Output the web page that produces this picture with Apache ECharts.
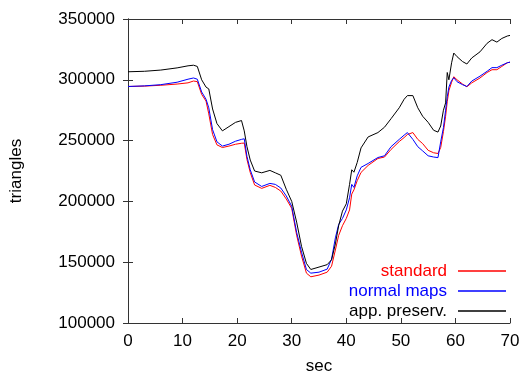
<!DOCTYPE html>
<html>
<head>
<meta charset="utf-8">
<script src="https://cdn.jsdelivr.net/npm/echarts@6/dist/echarts.min.js"></script>
<style>
  html, body { margin: 0; padding: 0; background: #fff; }
  #chart { width: 526px; height: 380px; }
</style>
</head>
<body>
<div id="chart"></div>
<script>
// time samples (sec)
const sec = [
  0, 3, 6, 9, 11, 12, 12.7, 13.5, 14.3, 14.8, 15.5, 16.3, 17.3, 18.5, 19.7, 20.8,
  21.3, 21.8, 22.4, 23.2, 24.5, 26, 27, 28, 29, 30, 30.9, 31.8, 32.7, 33.5, 35,
  36.5, 37.3, 38, 38.6, 39.3, 40, 40.6, 41, 41.4, 42, 42.7, 44, 45.8, 47, 48.2,
  49.7, 50.6, 51.2, 52.2, 53.1, 54, 55, 56, 56.8, 57.3, 57.8, 58.2, 58.5, 58.8,
  59.3, 59.7, 60.3, 61.3, 62.1, 63, 64.5, 65.8, 66.7, 67.6, 68.5, 69.5, 70
];

const standard = [
  294500, 294800, 295500, 296500, 297500, 299000, 298500, 288000, 282500, 272000,
  255000, 246500, 244300, 245500, 247000, 247800, 248000, 234500, 223800, 213500,
  210700, 213200, 211500, 208500, 202000, 194300, 172200, 155000, 141000, 138000,
  139400, 141800, 146700, 160000, 172000, 180000, 186000, 193000, 206000, 209500,
  217000, 223800, 229600, 235300, 236500, 242700, 249200, 252500, 255000, 256600,
  251000, 247500, 242000, 240000, 239400, 244300, 257400, 270000, 282000, 291000,
  298000, 302500, 300000, 296500, 294300, 297500, 301500, 306000, 308300, 308300,
  311000, 314000, 314500
];

const normalMaps = [
  294500, 295000, 296000, 298000, 300500, 301500, 300500, 290000, 284000, 277000,
  259000, 249000, 245500, 247000, 249500, 251000, 251500, 237000, 226000, 216000,
  212300, 214800, 214000, 211000, 204500, 196000, 174600, 158200, 144000, 141000,
  141800, 144300, 152500, 170000, 181000, 186000, 193000, 203000, 214000, 211500,
  221000, 228000, 231200, 236100, 237500, 245000, 251000, 254500, 256600, 251000,
  245000, 241500, 237500, 236500, 236000, 249000, 260700, 275000, 286000, 294000,
  299500, 301700, 298400, 296000, 294500, 299000, 303000, 307000, 310000, 310000,
  312000, 314000, 314500
];

const appPreserv = [
  306600, 307000, 308000, 309800, 311500, 312000, 311000, 300000, 294000, 292500,
  276000, 264000, 258000, 261500, 265000, 266500, 258000, 245000, 234000, 225000,
  223500, 225500, 223500, 221500, 210000, 200000, 183000, 163000, 149000, 144000,
  146000, 148000, 152000, 165000, 180000, 192000, 198000, 214000, 226000, 224000,
  232000, 244000, 253000, 256600, 261000, 268000, 277000, 284000, 287000, 287000,
  277000, 270000, 265000, 258500, 257000, 262000, 275000, 281000, 306000, 300000,
  314000, 322000, 319000, 315000, 313000, 318000, 323000, 330000, 333000, 331000,
  334000, 336000, 336500
];

const seriesNames = ["standard", "normal maps", "app. preserv."];
const seriesColors = ["#ff0000", "#0000ff", "#000000"];
const seriesValues = [standard, normalMaps, appPreserv];

const FONT = "Liberation Sans, Arial, Helvetica, sans-serif";
const axisLine = { show: true, lineStyle: { color: "#333", width: 1 } };
const tick = { show: true, inside: true, length: 5, lineStyle: { color: "#333" } };

const chart = echarts.init(document.getElementById("chart"), null, { renderer: "canvas" });

chart.setOption({
  animation: false,
  backgroundColor: "#fff",
  textStyle: { fontFamily: FONT },
  grid: { left: 125, right: 16, top: 19, bottom: 56 },
  legend: {
    orient: "vertical",
    right: 20,
    bottom: 59,
    padding: 0,
    align: "right",
    icon: "rect",
    itemWidth: 48,
    itemHeight: 1.5,
    itemGap: 0,
    textStyle: { fontSize: 17, lineHeight: 20, fontFamily: FONT, padding: [0, 6, 0, 0] },
    data: seriesNames.map((name, i) => ({
      name,
      textStyle: { color: seriesColors[i] },
    })),
  },
  xAxis: [
    {
      type: "value",
      min: 0,
      max: 70,
      interval: 10,
      name: "sec",
      nameLocation: "middle",
      nameGap: 35,
      nameTextStyle: { fontSize: 17, color: "#000", fontFamily: FONT },
      axisLine,
      axisTick: tick,
      splitLine: { show: false },
      axisLabel: { fontSize: 17, color: "#000", margin: 10, fontFamily: FONT },
    },
    {
      type: "value",
      position: "top",
      min: 0,
      max: 70,
      interval: 10,
      axisLine,
      axisTick: tick,
      splitLine: { show: false },
      axisLabel: { show: false },
    },
  ],
  yAxis: [
    {
      type: "value",
      min: 100000,
      max: 350000,
      interval: 50000,
      name: "triangles",
      nameLocation: "middle",
      nameGap: 103,
      nameRotate: 90,
      nameTextStyle: { fontSize: 17, color: "#000", fontFamily: FONT },
      axisLine,
      axisTick: tick,
      splitLine: { show: false },
      axisLabel: {
        fontSize: 17, color: "#000", margin: 13, fontFamily: FONT,
        formatter: (v) => String(v),
      },
    },
    {
      type: "value",
      position: "right",
      min: 100000,
      max: 350000,
      interval: 50000,
      axisLine,
      axisTick: tick,
      splitLine: { show: false },
      axisLabel: { show: false },
    },
  ],
  series: seriesNames.map((name, i) => ({
    name,
    type: "line",
    xAxisIndex: 0,
    yAxisIndex: 0,
    showSymbol: false,
    symbol: "none",
    color: seriesColors[i],
    lineStyle: { width: 1, color: seriesColors[i] },
    data: sec.map((t, k) => [t, seriesValues[i][k]]),
  })),
});
</script>
</body>
</html>
